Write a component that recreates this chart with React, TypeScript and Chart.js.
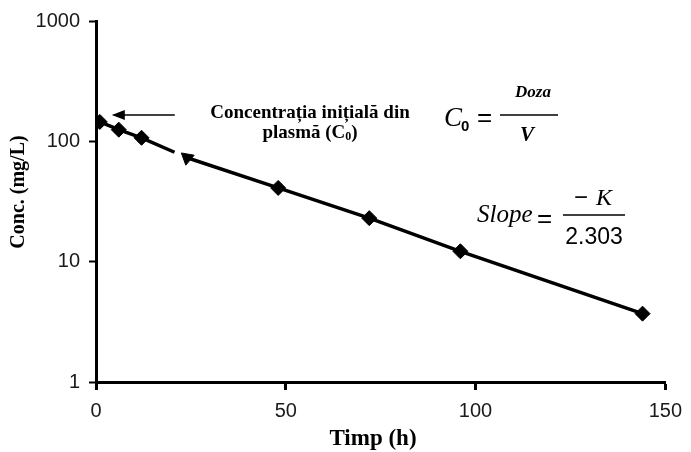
import React, { useEffect, useRef } from "react";
import { Chart, registerables } from "chart.js";

Chart.register(...registerables);

// Measured plasma concentrations after a single dose
const hours = [1, 6, 12, 24, 48, 72, 96, 144];
const conc = [145, 125, 107, 73, 41, 23, 12.2, 3.7];
const markerStyles = ["rectRot", "rectRot", "rectRot", "triangle", "rectRot", "rectRot", "rectRot", "rectRot"];
const markerRotation = [0, 0, 0, 190, 0, 0, 0, 0];

const xTicks = [0, 50, 100, 150];
const yTicks = [1, 10, 100, 1000];

const SERIF = '"Liberation Serif", "Times New Roman", serif';
const SANS = '"Liberation Sans", Arial, sans-serif';

const notesPlugin = {
  id: "notes",
  afterDraw(chart: any) {
    const ctx: CanvasRenderingContext2D = chart.ctx;
    const xs = chart.scales.x;
    const ys = chart.scales.y;
    ctx.save();
    ctx.fillStyle = "#000";
    ctx.strokeStyle = "#000";

    // axis titles
    ctx.save();
    ctx.translate(19, 192);
    ctx.rotate(-Math.PI / 2);
    ctx.font = `bold 20px ${SERIF}`;
    ctx.textAlign = "center";
    ctx.textBaseline = "middle";
    ctx.fillText("Conc. (mg/L)", 0, 0);
    ctx.restore();

    ctx.font = `bold 23px ${SERIF}`;
    ctx.textAlign = "center";
    ctx.textBaseline = "alphabetic";
    ctx.fillText("Timp (h)", 373, 445);

    // arrow to the initial concentration
    const tipX = xs.getPixelForValue(hours[0]) + 12;
    const tipY = ys.getPixelForValue(conc[0]) - 7;
    ctx.lineWidth = 1.5;
    ctx.beginPath();
    ctx.moveTo(tipX + 63, tipY);
    ctx.lineTo(tipX + 2, tipY);
    ctx.stroke();
    ctx.beginPath();
    ctx.moveTo(tipX + 13, tipY - 5);
    ctx.lineTo(tipX, tipY);
    ctx.lineTo(tipX + 13, tipY + 5);
    ctx.closePath();
    ctx.fill();

    // caption
    ctx.font = `bold 19px ${SERIF}`;
    ctx.textAlign = "center";
    ctx.fillText("Concentrația inițială din", 310, 118);
    ctx.textAlign = "left";
    const line2 = "plasmă (C";
    const w2 = ctx.measureText(line2).width;
    ctx.font = `bold 12px ${SERIF}`;
    const w0 = ctx.measureText("0").width;
    ctx.font = `bold 19px ${SERIF}`;
    const wp = ctx.measureText(")").width;
    const start = 310 - (w2 + w0 + wp) / 2;
    ctx.fillText(line2, start, 138);
    ctx.font = `bold 12px ${SERIF}`;
    ctx.fillText("0", start + w2, 140);
    ctx.font = `bold 19px ${SERIF}`;
    ctx.fillText(")", start + w2 + w0, 138);

    // C0 = Doza / V
    ctx.font = `italic 27px ${SERIF}`;
    ctx.textAlign = "left";
    ctx.fillText("C", 444, 126);
    ctx.font = `bold 15px ${SANS}`;
    ctx.fillText("0", 461, 131);
    ctx.font = `26px ${SANS}`;
    ctx.fillText("=", 477, 126);
    ctx.lineWidth = 1.5;
    ctx.beginPath();
    ctx.moveTo(500, 115);
    ctx.lineTo(558, 115);
    ctx.stroke();
    ctx.textAlign = "center";
    ctx.font = `bold italic 17px ${SERIF}`;
    ctx.fillText("Doza", 533, 97);
    ctx.font = `bold italic 21px ${SERIF}`;
    ctx.fillText("V", 527, 141);

    // Slope = -K / 2.303
    ctx.textAlign = "left";
    ctx.font = `italic 25px ${SERIF}`;
    ctx.fillText("Slope", 477, 222);
    ctx.font = `26px ${SANS}`;
    ctx.fillText("=", 537, 227);
    ctx.beginPath();
    ctx.moveTo(563, 215);
    ctx.lineTo(625, 215);
    ctx.stroke();
    ctx.font = `24px ${SANS}`;
    ctx.fillText("\u2212", 574, 205);
    ctx.font = `italic 24px ${SERIF}`;
    ctx.fillText("K", 596, 205);
    ctx.font = `23px ${SANS}`;
    ctx.textAlign = "center";
    ctx.fillText("2.303", 594, 244);

    ctx.restore();
  },
};

export default function App() {
  const canvasRef = useRef<HTMLCanvasElement | null>(null);

  useEffect(() => {
    if (!canvasRef.current) return;
    const chart = new Chart(canvasRef.current, {
      type: "scatter",
      data: {
        datasets: [
          {
            data: hours.map((h, i) => ({ x: h, y: conc[i] })),
            showLine: true,
            borderColor: "#000",
            borderWidth: 3.5,
            backgroundColor: "#000",
            pointBackgroundColor: "#000",
            pointBorderColor: "#000",
            pointBorderWidth: 1,
            pointRadius: 7.5,
            pointStyle: markerStyles as any,
            rotation: markerRotation as any,
            segment: {
              borderDash: (c: any) => (c.p1DataIndex === 3 ? [36, 10] : undefined),
            },
          },
        ],
      },
      options: {
        animation: false,
        responsive: false,
        layout: { padding: { top: 20, right: 23, left: 0, bottom: 0 } },
        plugins: {
          legend: { display: false },
          tooltip: { enabled: false },
        },
        scales: {
          x: {
            type: "linear",
            min: 0,
            max: 150,
            afterBuildTicks: (s: any) => {
              s.ticks = xTicks.map((v) => ({ value: v }));
            },
            afterFit: (s: any) => {
              s.height = 70;
            },
            ticks: {
              color: "#1a1a1a",
              font: { family: SANS, size: 20 },
              padding: 9,
            },
            grid: {
              drawOnChartArea: false,
              drawTicks: true,
              tickLength: 8,
              tickWidth: 3,
              tickColor: "#000",
            },
            border: { color: "#000", width: 3 },
          },
          y: {
            type: "logarithmic",
            min: 1,
            max: 1000,
            afterBuildTicks: (s: any) => {
              s.ticks = yTicks.map((v) => ({ value: v }));
            },
            afterFit: (s: any) => {
              s.width = 96;
            },
            ticks: {
              color: "#1a1a1a",
              font: { family: SANS, size: 20 },
              padding: 9,
              callback: (v: any) => String(v),
            },
            grid: {
              drawOnChartArea: false,
              drawTicks: true,
              tickLength: 7,
              tickWidth: 2,
              tickColor: "#000",
            },
            border: { color: "#000", width: 3 },
          },
        },
      },
      plugins: [notesPlugin],
    });
    return () => chart.destroy();
  }, []);

  return (
    <div style={{ position: "fixed", left: 0, top: 0, width: 691, height: 452, background: "#fff" }}>
      <canvas ref={canvasRef} width={691} height={452} style={{ display: "block" }} />
    </div>
  );
}
